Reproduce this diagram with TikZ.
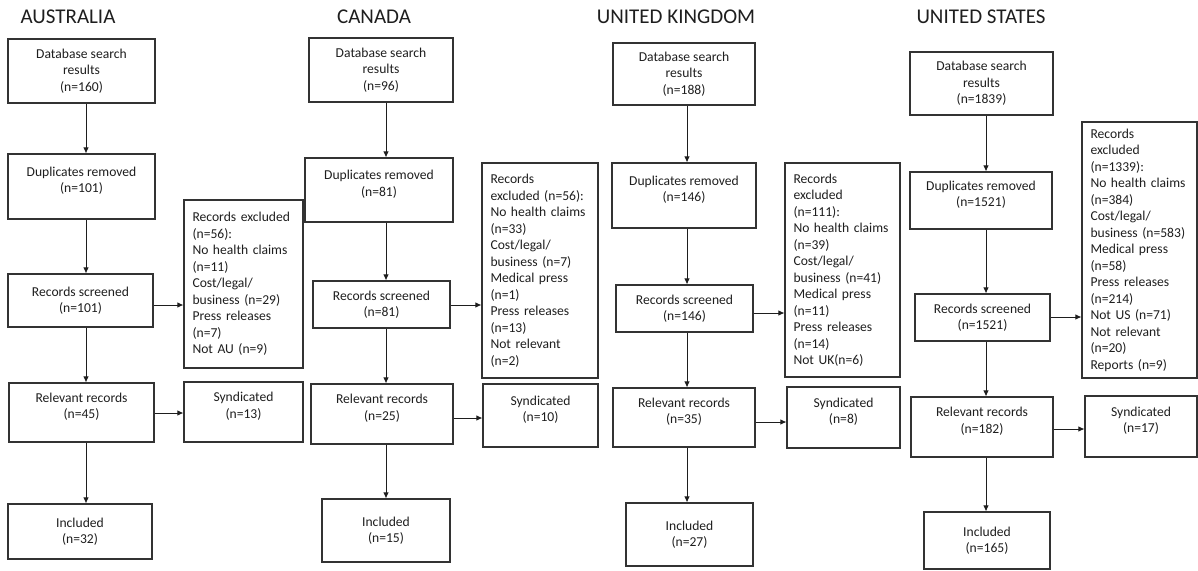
\documentclass[tikz,border=0pt]{standalone}
\usepackage{fontspec}
\setmainfont{Carlito}
\usetikzlibrary{arrows.meta}
\definecolor{ink}{HTML}{1E1E1E}
\definecolor{edge}{HTML}{333333}
\newcommand\mybox[7][]{%
 \pgfmathsetmacro\bw{#5-#3}\pgfmathsetmacro\bh{#6-#4}%
 \pgfmathsetmacro\bcx{(#3+#5)/2}\pgfmathsetmacro\bcy{(#4+#6)/2}%
 \pgfmathsetmacro\btw{#5-#3-17}%
 \node[box,minimum width=\bw pt,minimum height=\bh pt,#1] (#2) at (\bcx,\bcy) {#7};}
\tikzset{
 box/.style={draw=edge,line width=1.1pt,rectangle,inner sep=0pt,align=center,text=ink,
   font=\fontsize{13.6}{16.5}\selectfont},
 up/.style={text depth=13pt},
 excl/.style={align=left,text width=\btw pt},
 title/.style={text=ink,font=\fontsize{21}{25}\selectfont,inner sep=0pt},
 arr/.style={draw=ink,line width=0.9pt,-{Latex[length=6pt,width=5.5pt]}}
}
\begin{document}
\begin{tikzpicture}[x=1pt,y=-1pt]
\useasboundingbox (0,0) rectangle (1198,570);
% ---------------- AUSTRALIA
\node[title] (tA) at (68,17) {AUSTRALIA};
\mybox{a1}{8}{39}{155}{103}{Database search\\results\\(n=160)}
\mybox[up]{a2}{8}{154}{155}{219}{Duplicates removed\\(n=101)}
\mybox{a3}{8}{274}{153}{327}{Records screened\\(n=101)}
\mybox[up]{a4}{9}{383}{154}{442}{Relevant records\\(n=45)}
\mybox{a5}{8}{504}{152}{559}{Included\\(n=32)}
\mybox[excl]{aE}{184}{200}{303}{368}{Records excluded\\(n=56):\\No health claims\\(n=11)\\Cost/legal/\\business (n=29)\\Press releases\\(n=7)\\Not AU (n=9)}
\mybox[up]{aS}{184}{382}{303}{442}{Syndicated\\(n=13)}
\coordinate (ax) at (86,0);
\coordinate (ay1) at (0,305);
\coordinate (ay2) at (0,413);
\draw[arr] (a1.south -| ax) -- (a2.north -| ax);
\draw[arr] (a2.south -| ax) -- (a3.north -| ax);
\draw[arr] (a3.south -| ax) -- (a4.north -| ax);
\draw[arr] (a4.south -| ax) -- (a5.north -| ax);
\draw[arr] (a3.east |- ay1) -- (aE.west |- ay1);
\draw[arr] (a4.east |- ay2) -- (aS.west |- ay2);
% ---------------- CANADA
\node[title] (tC) at (374,17) {CANADA};
\mybox{c1}{309}{38}{453}{102}{Database search\\results\\(n=96)}
\mybox[up]{c2}{305}{158}{453}{222}{Duplicates removed\\(n=81)}
\mybox{c3}{313}{281}{450}{328}{Records screened\\(n=81)}
\mybox[up]{c4}{311}{384}{453}{444}{Relevant records\\(n=25)}
\mybox{c5}{322}{499}{450}{562}{Included\\(n=15)}
\mybox[excl]{cE}{482}{163}{598}{378}{Records\\excluded (n=56):\\No health claims\\(n=33)\\Cost/legal/\\business (n=7)\\Medical press\\(n=1)\\Press releases\\(n=13)\\Not relevant\\(n=2)}
\mybox[up]{cS}{483}{384}{598}{447}{Syndicated\\(n=10)}
\coordinate (cx) at (386,0);
\coordinate (cy1) at (0,305);
\coordinate (cy2) at (0,418);
\draw[arr] (c1.south -| cx) -- (c2.north -| cx);
\draw[arr] (c2.south -| cx) -- (c3.north -| cx);
\draw[arr] (c3.south -| cx) -- (c4.north -| cx);
\draw[arr] (c4.south -| cx) -- (c5.north -| cx);
\draw[arr] (c3.east |- cy1) -- (cE.west |- cy1);
\draw[arr] (c4.east |- cy2) -- (cS.west |- cy2);
% ---------------- UNITED KINGDOM
\node[title] (tU) at (676,17) {UNITED KINGDOM};
\mybox{u1}{613}{43}{755}{105}{Database search\\results\\(n=188)}
\mybox[up]{u2}{612}{163}{756}{228}{Duplicates removed\\(n=146)}
\mybox{u3}{616}{285}{753}{332}{Records screened\\(n=146)}
\mybox[up]{u4}{613}{388}{755}{447}{Relevant records\\(n=35)}
\mybox{u5}{626}{503}{753}{566}{Included\\(n=27)}
\mybox[excl]{uE}{785}{163}{900}{377}{Records\\excluded\\(n=111):\\No health claims\\(n=39)\\Cost/legal/\\business (n=41)\\Medical press\\(n=11)\\Press releases\\(n=14)\\Not UK(n=6)}
\mybox[up]{uS}{787}{387}{900}{448}{Syndicated\\(n=8)}
\coordinate (ux) at (687,0);
\coordinate (uy1) at (0,313);
\coordinate (uy2) at (0,422);
\draw[arr] (u1.south -| ux) -- (u2.north -| ux);
\draw[arr] (u2.south -| ux) -- (u3.north -| ux);
\draw[arr] (u3.south -| ux) -- (u4.north -| ux);
\draw[arr] (u4.south -| ux) -- (u5.north -| ux);
\draw[arr] (u3.east |- uy1) -- (uE.west |- uy1);
\draw[arr] (u4.east |- uy2) -- (uS.west |- uy2);
% ---------------- UNITED STATES
\node[title] (tS) at (981,17) {UNITED STATES};
\mybox{s1}{910}{52}{1053}{115}{Database search\\results\\(n=1839)}
\mybox[up]{s2}{910}{172}{1052}{229}{Duplicates removed\\(n=1521)}
\mybox{s3}{915}{294}{1050}{341}{Records screened\\(n=1521)}
\mybox[up]{s4}{911}{397}{1053}{457}{Relevant records\\(n=182)}
\mybox{s5}{924}{512}{1050}{569}{Included\\(n=165)}
\mybox[excl]{sE}{1082}{122}{1197}{378}{Records\\excluded\\(n=1339):\\No health claims\\(n=384)\\Cost/legal/\\business (n=583)\\Medical press\\(n=58)\\Press releases\\(n=214)\\Not US (n=71)\\Not relevant\\(n=20)\\Reports (n=9)}
\mybox[up]{sS}{1085}{396}{1197}{457}{Syndicated\\(n=17)}
\coordinate (sx) at (986,0);
\coordinate (sy1) at (0,317);
\coordinate (sy2) at (0,429);
\draw[arr] (s1.south -| sx) -- (s2.north -| sx);
\draw[arr] (s2.south -| sx) -- (s3.north -| sx);
\draw[arr] (s3.south -| sx) -- (s4.north -| sx);
\draw[arr] (s4.south -| sx) -- (s5.north -| sx);
\draw[arr] (s3.east |- sy1) -- (sE.west |- sy1);
\draw[arr] (s4.east |- sy2) -- (sS.west |- sy2);
\end{tikzpicture}
\end{document}
